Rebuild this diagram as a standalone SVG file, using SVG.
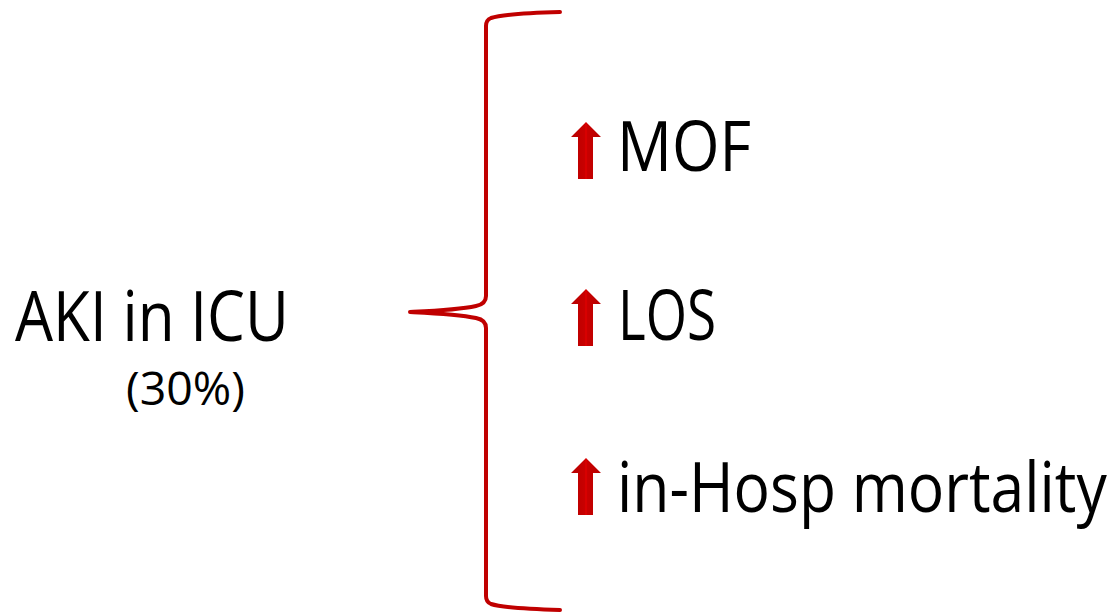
<svg xmlns="http://www.w3.org/2000/svg" xmlns:xlink="http://www.w3.org/1999/xlink" width="1117" height="612" viewBox="0 0 1117 612">
  <style>
    .t { font-family: "Open Sans", "Liberation Sans", sans-serif; fill: #000000; }
    .big { font-size: 70px; }
    .small { font-size: 46px; }
    .brace { fill: none; stroke: #C00000; stroke-width: 4; stroke-linecap: round; stroke-linejoin: round; }
  </style>
  <defs>
    <linearGradient id="redGrad" x1="0" y1="0" x2="1" y2="0">
      <stop offset="0" stop-color="#B80000"/>
      <stop offset="0.45" stop-color="#C80000"/>
      <stop offset="0.5" stop-color="#E00000"/>
      <stop offset="0.55" stop-color="#C80000"/>
      <stop offset="1" stop-color="#B80000"/>
    </linearGradient>
    <path id="upArrow" d="M15,0 L30,15 L22,15 L22,57 L7,57 L7,15 L0,15 Z" fill="url(#redGrad)"/>
  </defs>
  <rect width="1117" height="612" fill="#ffffff"/>

  <g id="connectors">
    <path class="brace" d="M560,12 C525,13 500,15 491,18 Q486,20 486,26 L486,296 Q486,304 476,306 C458,310 432,311 410,312 C432,313 458,314 476,318 Q486,320 486,328 L486,596 Q486,602 491,604 C500,607 525,609 560,610"/>
  </g>

  <g id="source">
    <text class="t big" x="15" y="341" textLength="274" lengthAdjust="spacingAndGlyphs">AKI in ICU</text>
    <text class="t small" x="126" y="405" textLength="119" lengthAdjust="spacingAndGlyphs">(30%)</text>
  </g>

  <g id="mof">
    <use xlink:href="#upArrow" transform="translate(571,122)"/>
    <text class="t big" x="617" y="171" textLength="134" lengthAdjust="spacingAndGlyphs">MOF</text>
  </g>

  <g id="los">
    <use xlink:href="#upArrow" transform="translate(571,289)"/>
    <text class="t big" x="618" y="340" textLength="98" lengthAdjust="spacingAndGlyphs">LOS</text>
  </g>

  <g id="mortality">
    <use xlink:href="#upArrow" transform="translate(571,458)"/>
    <text class="t big" transform="translate(617,512) scale(0.87,1)" x="0" y="0" textLength="563" lengthAdjust="spacingAndGlyphs">in-Hosp mortality</text>
  </g>
</svg>
